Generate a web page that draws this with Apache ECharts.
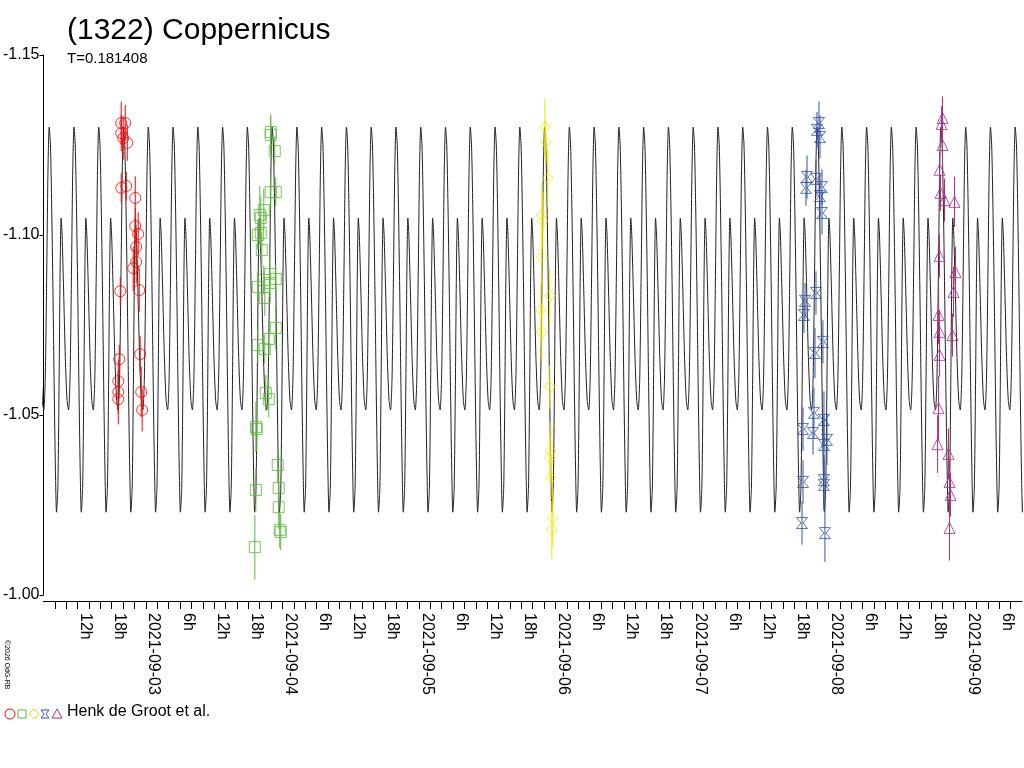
<!DOCTYPE html>
<html><head><meta charset="utf-8">
<script src="https://cdn.jsdelivr.net/npm/echarts@6/dist/echarts.min.js"></script>
<style>html,body{margin:0;padding:0;background:#fff}#c{width:1024px;height:768px}</style>
</head><body><div id="c"></div>
<script>
// time in hours relative to 2021-09-03 00:00 UT (before correction); values are relative magnitudes
var timeCorrection = 0.93;           // hours added to the readings below
var period = 0.181408 * 24;          // hours
var epochMax = -17.92;               // hour of a primary maximum
var shapePhase = [0, 0.05, 0.10, 0.15, 0.20, 0.25, 0.295, 0.35, 0.40, 0.44, 0.48, 0.52, 0.58, 0.65, 0.72, 0.78, 0.84, 0.90, 0.95];
var shapeMag   = [-1.130, -1.125, -1.108, -1.085, -1.058, -1.035, -1.023, -1.030, -1.060, -1.090, -1.1047, -1.100, -1.085, -1.066, -1.054, -1.0514, -1.060, -1.090, -1.118];
var dayLabels = ['2021-09-03','2021-09-04','2021-09-05','2021-09-06','2021-09-07','2021-09-08','2021-09-09'];
var legendText = 'Henk de Groot et al.';

var red = [[-5.26,-1.1311,0.006],[-4.56,-1.1311,0.005],[-5.26,-1.1283,0.005],[-4.91,-1.1269,0.006],[-4.2,-1.1256,0.005],
 [-5.26,-1.1131,0.004],[-4.38,-1.1136,0.004],[-2.8,-1.1103,0.006],[-2.8,-1.1025,0.005],[-2.28,-1.1003,0.006],[-2.63,-1.0967,0.005],
 [-2.63,-1.0925,0.006],[-3.15,-1.0908,0.006],[-5.43,-1.0844,0.004],[-2.1,-1.0847,0.006],[-1.93,-1.0669,0.005],[-5.61,-1.0655,0.004],
 [-5.78,-1.0594,0.006],[-5.78,-1.0564,0.006],[-5.78,-1.0544,0.007],[-1.75,-1.0564,0.007],[-1.58,-1.0514,0.006]];
var green = [[21.02,-1.1286,0.005],[21.02,-1.1278,0.005],[21.72,-1.1233,0.004],[21.02,-1.1119,0.005],[21.9,-1.1119,0.004],
 [19.8,-1.1069,0.006],[19.1,-1.1056,0.008],[19.27,-1.1047,0.006],[18.75,-1.1,0.004],[19.27,-1.1006,0.004],[19.45,-1.0958,0.005],
 [20.85,-1.0892,0.005],[21.9,-1.0878,0.004],[19.8,-1.0875,0.004],[18.75,-1.0856,0.004],[20.85,-1.0867,0.004],[19.97,-1.0825,0.005],
 [21.9,-1.0742,0.006],[20.67,-1.0711,0.005],[18.75,-1.0694,0.005],[19.97,-1.0683,0.004],[20.15,-1.0561,0.005],[20.67,-1.0544,0.005],
 [18.4,-1.0467,0.007],[18.57,-1.0461,0.006],[22.25,-1.0361,0.005],[18.4,-1.0292,0.006],[22.42,-1.0297,0.006],[22.42,-1.0244,0.006],
 [22.6,-1.0181,0.005],[22.78,-1.0175,0.005],[18.22,-1.0133,0.009]];
var yellow = [[69.2,-1.13,0.008],[69.37,-1.1258,0.006],[69.72,-1.1158,0.008],[68.67,-1.1056,0.009],[68.85,-1.1039,0.008],
 [68.67,-1.0939,0.008],[70.07,-1.0831,0.008],[68.5,-1.0792,0.008],[68.67,-1.0731,0.008],[70.07,-1.0578,0.006],[70.25,-1.04,0.008],
 [70.07,-1.0381,0.006],[70.25,-1.0325,0.006],[70.6,-1.0214,0.008],[70.43,-1.0181,0.008]];
var blue = [[117.38,-1.1311,0.006],[117.03,-1.1292,0.005],[117.56,-1.1272,0.006],[115.28,-1.1161,0.006],[116.86,-1.1156,0.005],
 [115.1,-1.1131,0.005],[117.91,-1.1133,0.005],[117.56,-1.1108,0.006],[117.91,-1.1061,0.006],[116.86,-1.0839,0.006],[114.93,-1.0817,0.005],
 [114.75,-1.0778,0.005],[118.08,-1.0703,0.006],[116.68,-1.0672,0.007],[116.5,-1.0506,0.007],[114.58,-1.0461,0.006],[116.33,-1.045,0.006],
 [118.26,-1.0486,0.008],[118.79,-1.0431,0.007],[118.26,-1.0417,0.008],[114.58,-1.0314,0.006],[118.26,-1.0319,0.007],[118.26,-1.0306,0.007],
 [114.4,-1.02,0.006],[118.43,-1.0172,0.008]];
var magenta = [[139.1,-1.1325,0.006],[138.93,-1.1308,0.005],[139.1,-1.125,0.006],[138.58,-1.1181,0.005],[138.75,-1.1117,0.005],
 [139.45,-1.1097,0.006],[141.2,-1.1092,0.007],[138.58,-1.0942,0.006],[141.38,-1.0897,0.007],[141.03,-1.0842,0.007],[138.4,-1.0778,0.008],
 [138.58,-1.0731,0.006],[140.85,-1.0722,0.006],[138.58,-1.0667,0.006],[138.4,-1.0519,0.009],[138.23,-1.0419,0.008],[140.15,-1.0392,0.007],
 [140.33,-1.0314,0.006],[140.5,-1.0278,0.006],[140.33,-1.0186,0.009]];

var X0 = -18, X1 = 154;
function fix(arr) { return arr.map(function (p) { return [p[0] + timeCorrection, p[1], p[2]]; }); }
var ep = epochMax + timeCorrection;
var model = [];
var kStart = Math.floor((X0 - ep) / period) - 1, kEnd = Math.ceil((X1 - ep) / period) + 1;
for (var k = kStart; k <= kEnd; k++) {
  for (var i = 0; i < shapePhase.length; i++) {
    model.push([ep + (k + shapePhase[i]) * period, shapeMag[i]]);
  }
}
var bowtie = 'path://M0,0 L10,0 L6,5 L10,10 L0,10 L4,5 Z';
var sessions = [
  {d: fix(red), c: '#ff0000', s: 'circle', z: 11},
  {d: fix(green), c: '#5cb83c', s: 'rect', z: 12},
  {d: fix(yellow), c: '#f2e600', s: 'diamond', z: 13},
  {d: fix(blue), c: '#3553a8', s: bowtie, z: 14},
  {d: fix(magenta), c: '#b02d85', s: 'triangle', z: 15}
];
var series = [{type: 'line', data: model, showSymbol: false, symbol: 'none', smooth: 0.25, clip: true,
  lineStyle: {color: '#222', width: 1}, z: 2, silent: true}];
sessions.forEach(function (s) {
  series.push({type: 'custom', z: s.z - 5, silent: true, data: s.d, clip: true,
    renderItem: function (p, api) {
      var a = api.coord([api.value(0), api.value(1) - api.value(2)]);
      var b = api.coord([api.value(0), api.value(1) + api.value(2)]);
      return {type: 'line', shape: {x1: a[0], y1: a[1], x2: b[0], y2: b[1]}, style: {stroke: s.c, lineWidth: 1}};
    }});
  series.push({type: 'scatter', z: s.z, data: s.d.map(function (p) { return [p[0], p[1]]; }), symbol: s.s,
    symbolSize: 11, itemStyle: {color: 'rgba(0,0,0,0)', borderColor: s.c, borderWidth: 1}});
});

var chart = echarts.init(document.getElementById('c'));
var fnt = 'Liberation Sans, Arial, sans-serif';
chart.setOption({
  animation: false,
  grid: {left: 40, right: 2, top: 55, bottom: 173, containLabel: false},
  title: {text: '(1322) Coppernicus', left: 62, top: 11,
    textStyle: {fontFamily: fnt, fontSize: 30, fontWeight: 'normal', color: '#000'},
    subtext: 'T=0.181408', subtextStyle: {fontFamily: fnt, fontSize: 15, color: '#000'}, itemGap: 5},
  xAxis: {type: 'value', min: X0, max: X1, interval: 2, offset: 6,
    axisLine: {lineStyle: {color: '#000'}}, axisTick: {length: 8, lineStyle: {color: '#000'}}, splitLine: {show: false},
    axisLabel: {rotate: -90, color: '#000', fontFamily: fnt, fontSize: 16, margin: 12, verticalAlign: 'bottom',
      showMinLabel: false, showMaxLabel: false,
      formatter: function (v) {
        var h = ((v % 24) + 24) % 24;
        if (h === 0) { var d = Math.round(v / 24); return d >= 0 && d < dayLabels.length ? dayLabels[d] : ''; }
        if (h % 6 === 0) return h + 'h';
        return '';
      }}},
  yAxis: {type: 'value', inverse: true, min: -1.15, max: -1.00, interval: 0.05,
    axisLine: {show: true, onZero: false, lineStyle: {color: '#000'}}, axisTick: {length: 4, lineStyle: {color: '#000'}}, splitLine: {show: false},
    axisLabel: {color: '#000', fontFamily: fnt, fontSize: 16, margin: 4, verticalAlign: 'middle', padding: [0, 0, 4, 0],
      formatter: function (v) { return v.toFixed(2); }}},
  graphic: [
    {type: 'text', x: 10, y: 640, rotation: -Math.PI / 2, style: {text: '©2026 OdG-RB', font: '7px ' + fnt, fill: '#000'}},
    {type: 'circle', shape: {cx: 10, cy: 714, r: 5}, style: {fill: 'none', stroke: '#ff0000'}},
    {type: 'rect', shape: {x: 18, y: 710, width: 8, height: 8}, style: {fill: 'none', stroke: '#5cb83c'}},
    {type: 'polygon', shape: {points: [[34, 709], [39, 714], [34, 719], [29, 714]]}, style: {fill: 'none', stroke: '#f2e600'}},
    {type: 'polygon', shape: {points: [[41, 710], [49, 710], [46, 714], [49, 718], [41, 718], [44, 714]]}, style: {fill: 'none', stroke: '#3553a8'}},
    {type: 'polygon', shape: {points: [[57, 709], [62, 718], [52, 718]]}, style: {fill: 'none', stroke: '#b02d85'}},
    {type: 'text', x: 67, y: 704, style: {text: legendText, font: '16px ' + fnt, fill: '#000'}}
  ],
  series: series
});
</script></body></html>
